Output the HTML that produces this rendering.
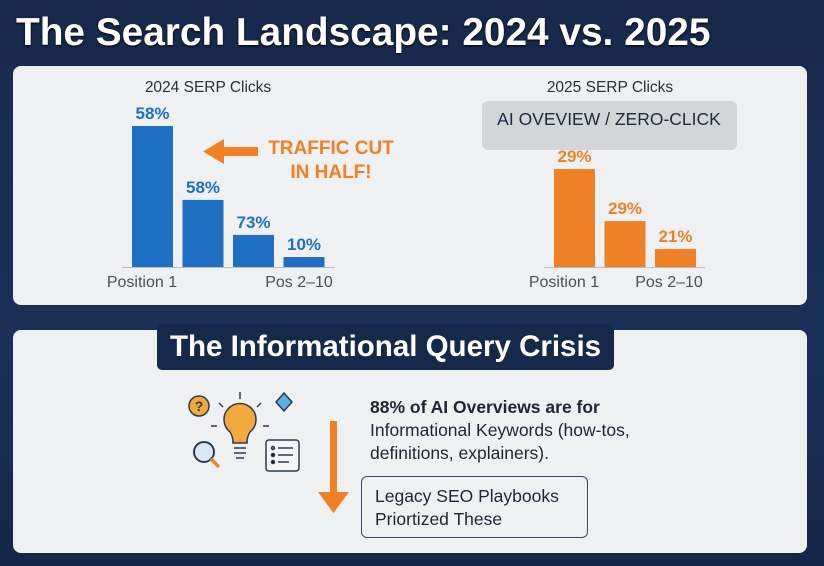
<!DOCTYPE html>
<html><head><meta charset="utf-8"><style>
body{margin:0;width:824px;height:566px;overflow:hidden;background:linear-gradient(180deg,#17294a,#1a3058 60%,#152746);font-family:"Liberation Sans",sans-serif;position:relative}
.abs{position:absolute}
</style></head><body>
<div class="abs" style="left:16px;top:11px;color:#fff;font-weight:bold;font-size:38.8px;letter-spacing:0px;text-shadow:0 1px 2px #000">The Search Landscape: 2024 vs. 2025</div>
<div class="abs" style="left:13px;top:66px;width:794px;height:239px;background:#eff0f1;border-radius:8px"></div>
<div class="abs" style="left:13px;top:330px;width:794px;height:223px;background:#eff0f1;border-radius:8px"></div>
<svg class="abs" style="left:0;top:0" width="824" height="566" font-family="Liberation Sans, sans-serif">
<g id="c1"></g>
<g id="c2"></g>
<text x="208" y="92" text-anchor="middle" font-size="15.5" fill="#2a2f3a">2024 SERP Clicks</text>
<text x="610" y="92" text-anchor="middle" font-size="15.5" fill="#2a2f3a">2025 SERP Clicks</text>
<rect x="482" y="101" width="255" height="49" rx="6" fill="#d3d5d8"/>
<text x="609" y="125" text-anchor="middle" font-size="17.5" fill="#1e2a3e">AI OVEVIEW / ZERO-CLICK</text>
<g><rect x="222" y="147" width="36" height="9" fill="#f08025"/><polygon points="203,151.5 224,139 224,164" fill="#f08025"/></g>
<text x="331" y="154" text-anchor="middle" font-size="19" font-weight="bold" fill="#f08025">TRAFFIC CUT</text>
<text x="331" y="178" text-anchor="middle" font-size="19" font-weight="bold" fill="#f08025">IN HALF!</text>
<g stroke="#2b3b55" stroke-width="1.5">
<circle cx="199" cy="406" r="10" fill="#f2a93b"/><text x="199" y="411" text-anchor="middle" font-size="14" font-weight="bold" fill="#2b3b55" stroke="none">?</text>
<path d="M230 432a16 16 0 1 1 20 0c-2 3-3 7-3 11h-14c0-4-1-8-3-11z" fill="#f2a93b"/>
<line x1="234" y1="448" x2="246" y2="448"/><line x1="234" y1="453" x2="246" y2="453"/><line x1="236" y1="458" x2="244" y2="458"/>
<line x1="240" y1="392" x2="240" y2="399"/><line x1="219" y1="403" x2="223" y2="407"/><line x1="261" y1="403" x2="257" y2="407"/><line x1="211" y1="426" x2="217" y2="426"/><line x1="263" y1="426" x2="269" y2="426"/>
<polygon points="284,393 292,402 284,411 276,402" fill="#5aaee8"/>
<circle cx="204" cy="452" r="10" fill="#dbe9f6" stroke-width="2"/><line x1="211" y1="459" x2="219" y2="467" stroke="#e08a2a" stroke-width="3.5"/>
<rect x="266" y="440" width="33" height="31" rx="3" fill="#f5f6f8"/>
<circle cx="273" cy="448" r="1.5" fill="#f08025"/><line x1="278" y1="448" x2="293" y2="448"/><circle cx="273" cy="455" r="1.5"/><line x1="278" y1="455" x2="293" y2="455"/><circle cx="273" cy="462" r="1.5"/><line x1="278" y1="462" x2="289" y2="462"/>
</g>
<g><rect x="330" y="421" width="7" height="73" fill="#f08025"/><polygon points="318,492 349,492 333.5,513" fill="#f08025"/></g>
</svg>
<div class="abs" style="left:157px;top:324px;width:457px;height:46px;background:#15294a;border-radius:5px;color:#fff;font-weight:bold;font-size:29.5px;line-height:46px;text-align:center">The Informational Query Crisis</div>
<div class="abs" style="left:370px;top:396px;font-size:17.5px;line-height:23px;color:#1e2535"><b>88% of AI Overviews are for</b><br>Informational Keywords (how-tos,<br>definitions, explainers).</div>
<div class="abs" style="left:361px;top:476px;width:212px;height:60px;border:1.5px solid #3a4a64;border-radius:6px;font-size:17.5px;line-height:23px;color:#1e2535;padding:0 0 0 13px"><div style="padding-top:8px">Legacy SEO Playbooks<br>Priortized These</div></div>
<script>
const labels2024=["58%","58%","73%","10%"];
const values2024=[58,27.6,13.2,4.1];
const labels2025=["29%","29%","21%"];
const values2025=[40.3,18.9,7.4];
const axisLabels=["Position 1","Pos 2–10"];
const NS="http://www.w3.org/2000/svg";
const baseY=267, pxPerUnit=141/58, barW=41, step=50.5;
function yScale(v){return baseY-v*pxPerUnit;}
function mk(t,a){const e=document.createElementNS(NS,t);for(const k in a)e.setAttribute(k,a[k]);return e;}
function draw(gid,x0,vals,labs,color,lineX1,lineX2){
  const g=document.getElementById(gid);
  const ln=mk('line',{x1:lineX1,x2:lineX2,y1:baseY+0.5,y2:baseY+0.5,stroke:'#b8bcc2','stroke-width':1});
  
  
  g.appendChild(ln);
  vals.forEach((v,i)=>{
    const x=x0+i*step,y=yScale(v);
    const r=mk('rect',{x:x,y:y,width:barW,height:baseY-y,fill:color});
    
    
    g.appendChild(r);
    const t=mk('text',{x:x+barW/2,y:y-7,'text-anchor':'middle','font-size':17,'font-weight':'bold',fill:color});
    t.textContent=labs[i];
    
    
    g.appendChild(t);
  });
  const a=mk('text',{x:x0+10,y:baseY+20,'text-anchor':'middle','font-size':16,fill:'#4a4f58'});
  a.textContent=axisLabels[0];
  
  
  g.appendChild(a);
  const b=mk('text',{x:lineX2-36,y:baseY+20,'text-anchor':'middle','font-size':16,fill:'#4a4f58'});
  b.textContent=axisLabels[1];
  
  
  g.appendChild(b);
}
draw('c1',132,values2024,labels2024,'#1f6fc4',122,335);
draw('c2',554,values2025,labels2025,'#f08025',544,705);
</script>
</body></html>
